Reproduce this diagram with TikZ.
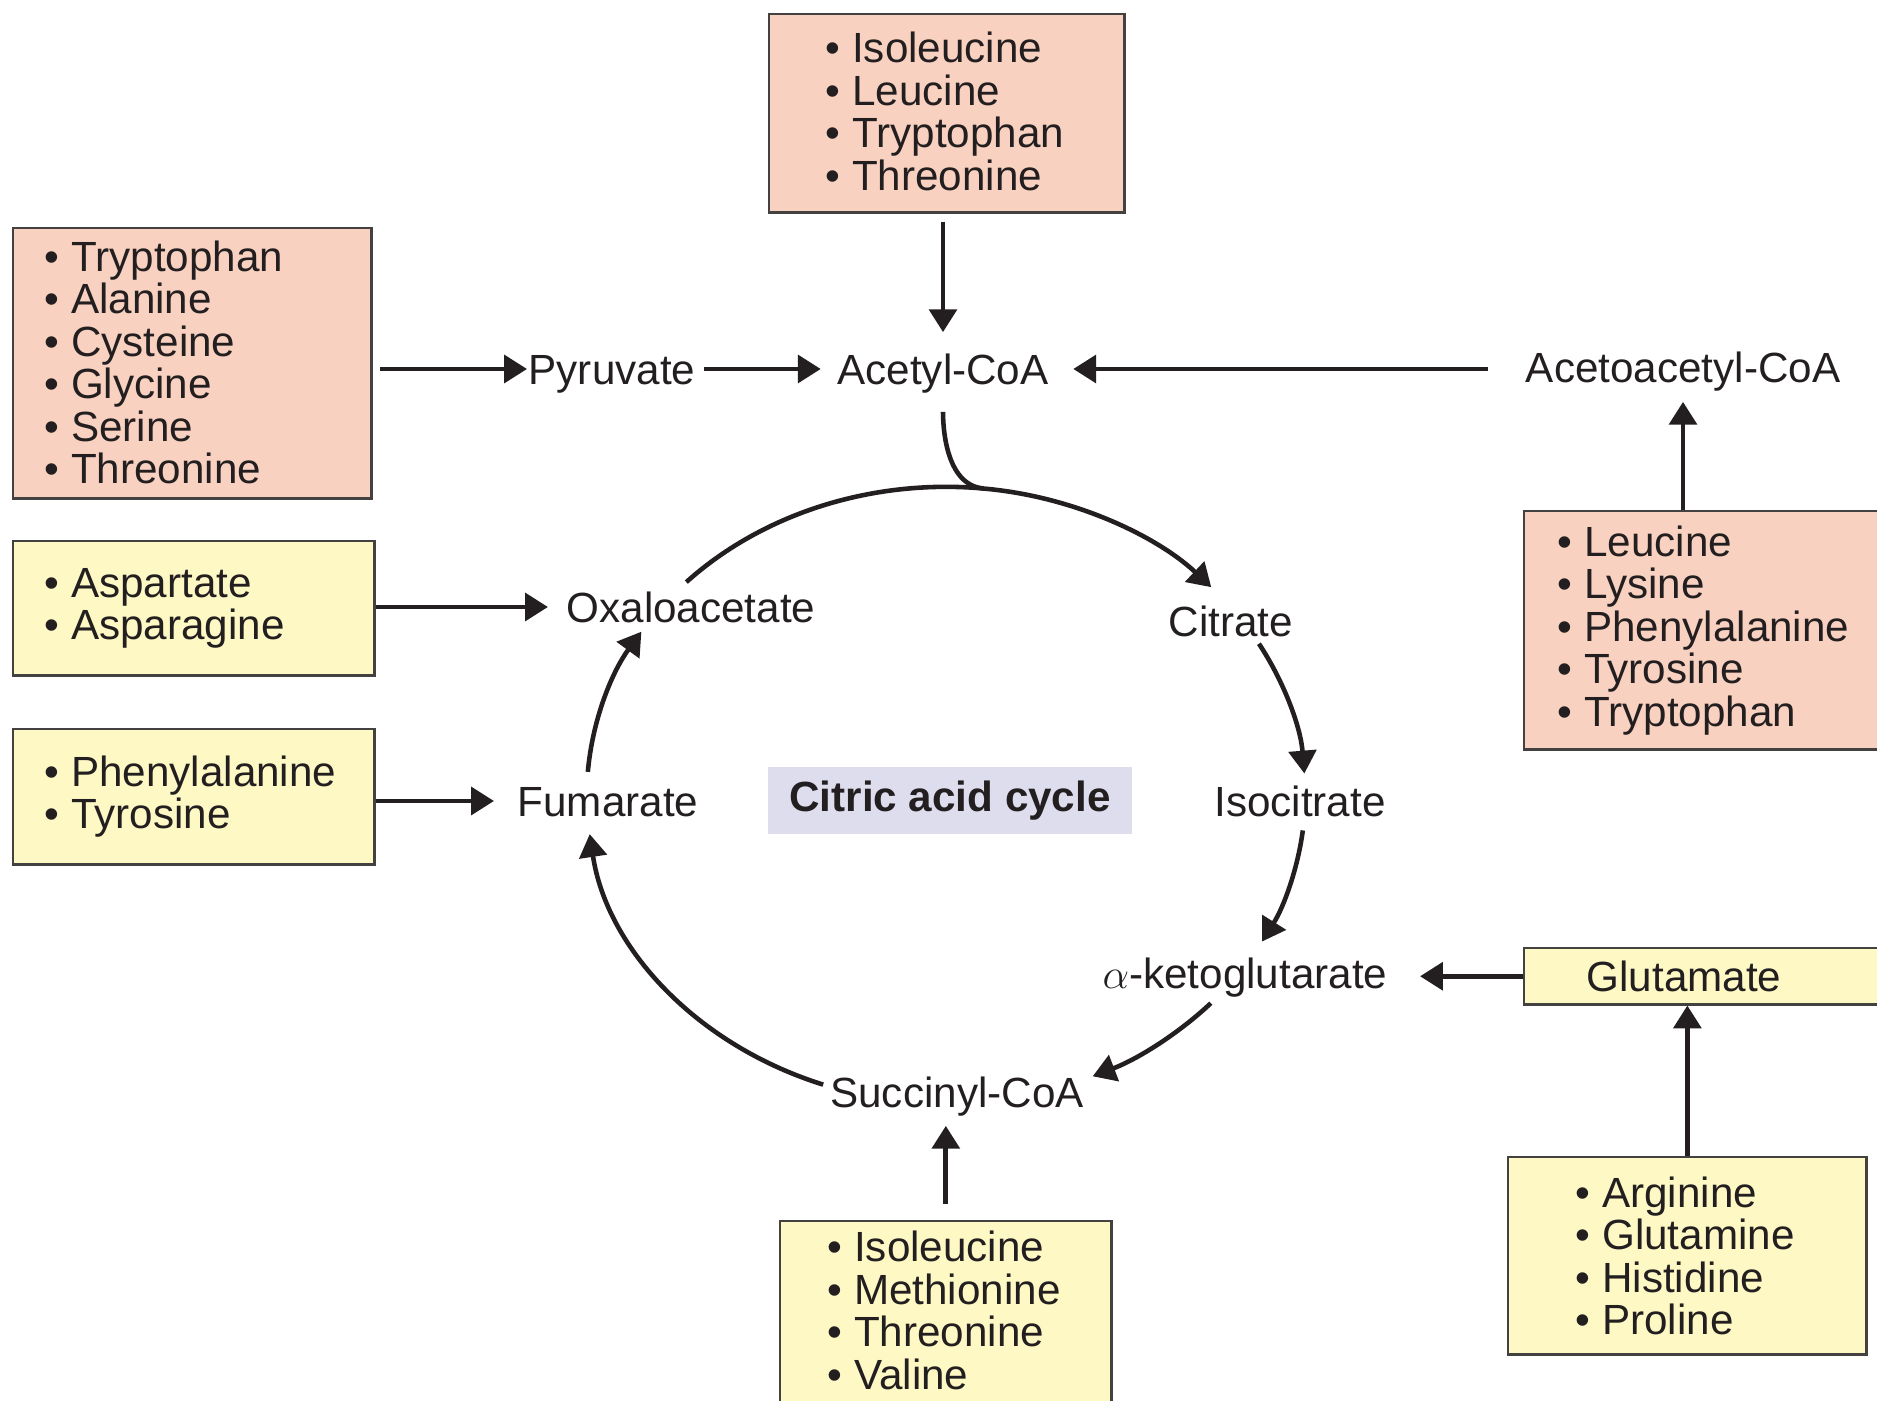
\documentclass[tikz,border=0pt]{standalone}
\usepackage{fontspec}
\setmainfont{Liberation Sans}
\usetikzlibrary{arrows.meta,calc}
\definecolor{salmon}{RGB}{249,209,192}
\definecolor{lemon}{RGB}{253,248,196}
\definecolor{lav}{RGB}{221,221,237}
\definecolor{ink}{RGB}{35,31,32}
\begin{document}
\begin{tikzpicture}[x=0.01cm,y=0.01cm,
  every node/.style={text=ink, font=\fontsize{12}{12.1}\selectfont},
  boxst/.style={draw=ink!85, line width=0.7pt, anchor=north west, inner sep=0pt},
  lst/.style={anchor=west, align=left, inner sep=0pt},
  lab/.style={inner sep=0pt, text height=8.6pt, text depth=0pt},
  arr/.style={draw=ink, line width=1.4pt, -{Triangle[length=6.5pt,width=7.8pt]}},
  cyc/.style={draw=ink, line width=1.3pt, -{Triangle[length=6.5pt,width=7.8pt]}},
  plain/.style={draw=ink, line width=1.3pt},
  ell/.style={x radius=3.59cm, y radius=3.08cm},
]
\useasboundingbox[fill=white] (0,0) rectangle (1877,-1401);

% amino-acid boxes
\node[boxst, fill=salmon, minimum width=3.55cm, minimum height=1.98cm] (topbox) at (768,-13) {};
\node[lst] (topboxt) at ($(topbox.west)+(57,2)$) {• Isoleucine\\• Leucine\\• Tryptophan\\• Threonine};

\node[boxst, fill=salmon, minimum width=3.58cm, minimum height=2.70cm] (lbox) at (12,-227) {};
\node[lst] (lboxt) at ($(lbox.west)+(32,1)$) {• Tryptophan\\• Alanine\\• Cysteine\\• Glycine\\• Serine\\• Threonine};

\node[boxst, fill=lemon, minimum width=3.61cm, minimum height=1.34cm] (aspbox) at (12,-540) {};
\node[lst] (aspboxt) at ($(aspbox.west)+(32,0)$) {• Aspartate\\• Asparagine};

\node[boxst, fill=lemon, minimum width=3.61cm, minimum height=1.35cm] (phebox) at (12,-728) {};
\node[lst] (pheboxt) at ($(phebox.west)+(32,0)$) {• Phenylalanine\\• Tyrosine};

\node[boxst, fill=salmon, minimum width=3.59cm, minimum height=2.38cm] (rbox) at (1523,-510) {};
\node[lst] (rboxt) at ($(rbox.west)+(34,0)$) {• Leucine\\• Lysine\\• Phenylalanine\\• Tyrosine\\• Tryptophan};

\node[boxst, fill=lemon, minimum width=3.59cm, minimum height=0.56cm] (glu) at (1523,-947) {};
\node[lst] (glut) at ($(glu.west)+(63,0)$) {Glutamate};

\node[boxst, fill=lemon, minimum width=3.58cm, minimum height=1.97cm] (rbbox) at (1507,-1156) {};
\node[lst] (rbboxt) at ($(rbbox.west)+(68,0)$) {• Arginine\\• Glutamine\\• Histidine\\• Proline};

\node[boxst, fill=lemon, minimum width=3.31cm, minimum height=1.84cm] (bbox) at (779,-1220) {};
\node[lst] (bboxt) at ($(bbox.west)+(48,3)$) {• Isoleucine\\• Methionine\\• Threonine\\• Valine};

% metabolite labels
\node[lab] (pyr) at (612,-369) {Pyruvate};
\node[lab] (acetyl) at (943,-369) {Acetyl-CoA};
\node[lab] (aca) at (1683,-367) {Acetoacetyl-CoA};
\node[lab] (oxalo) at (691,-607) {Oxaloacetate};
\node[lab] (cit) at (1231,-621) {Citrate};
\node[lab] (iso) at (1300,-801) {Isocitrate};
\node[lab] (fum) at (608,-801) {Fumarate};
\node[lab] (akg) at (1245,-973) {$\alpha$-ketoglutarate};
\node[lab] (succ) at (957,-1092) {Succinyl-CoA};
\node[fill=lav, minimum width=3.64cm, minimum height=0.67cm, inner sep=0pt,
      font=\bfseries\fontsize{12}{12}\selectfont] (cac) at (950,-800.5) {Citric acid cycle};

% straight connectors
\draw[arr, shorten <=0.07cm, shorten >=0.01cm] (lbox.east |- pyr.west) -- (pyr.west);
\draw[arr, shorten <=0.08cm, shorten >=0.16cm] (pyr.east) -- (acetyl.west);
\draw[arr, shorten <=0.37cm, shorten >=0.24cm] (aca.west |- acetyl.east) -- (acetyl.east);
\draw[arr, shorten <=0.08cm, shorten >=0.21cm] (topbox.south -| acetyl.north) -- (acetyl.north);
\draw[arr, shorten >=0.19cm] (rbox.north -| aca.south) -- (aca.south);
\draw[arr, shorten >=0.18cm] (aspbox.east |- oxalo.west) -- (oxalo.west);
\draw[arr, shorten >=0.23cm] (phebox.east |- fum.west) -- (fum.west);
\draw[arr, shorten >=0.32cm] (glu.west) -- (glu.west -| akg.east);
\draw[arr] (rbbox.north) -- (rbbox.north |- glu.south);
\draw[arr, shorten <=0.16cm, shorten >=0.18cm] (bbox.north) -- (bbox.north |- succ.south);

% citric acid cycle arcs
\coordinate (cc) at (946,-795);
\coordinate (c1) at ($(cc)+(136.3:3.59cm and 3.08cm)$);
\coordinate (c2) at ($(cc)+(29.4:3.59cm and 3.08cm)$);
\coordinate (c3) at ($(cc)+(-6.6:3.59cm and 3.08cm)$);
\coordinate (c4) at ($(cc)+(-42.5:3.59cm and 3.08cm)$);
\coordinate (c5) at ($(cc)+(-110:3.59cm and 3.08cm)$);
\coordinate (c6) at ($(cc)+(175.7:3.59cm and 3.08cm)$);
\coordinate (cj) at ($(cc)+(84:3.59cm and 3.08cm)$);
\draw[cyc] (c1) arc[ell, start angle=136.3, end angle=42.4];
\draw[cyc] (c2) arc[ell, start angle=29.4, end angle=4];
\draw[cyc] (c3) arc[ell, start angle=-6.6, end angle=-28.4];
\draw[cyc] (c4) arc[ell, start angle=-42.5, end angle=-65.9];
\draw[cyc] (c5) arc[ell, start angle=-110, end angle=-172.7];
\draw[cyc] (c6) arc[ell, start angle=175.7, end angle=148];
\draw[plain, shorten <=0.27cm] (acetyl.south) to[out=-90, in=175, looseness=0.9] (cj);
\end{tikzpicture}
\end{document}
